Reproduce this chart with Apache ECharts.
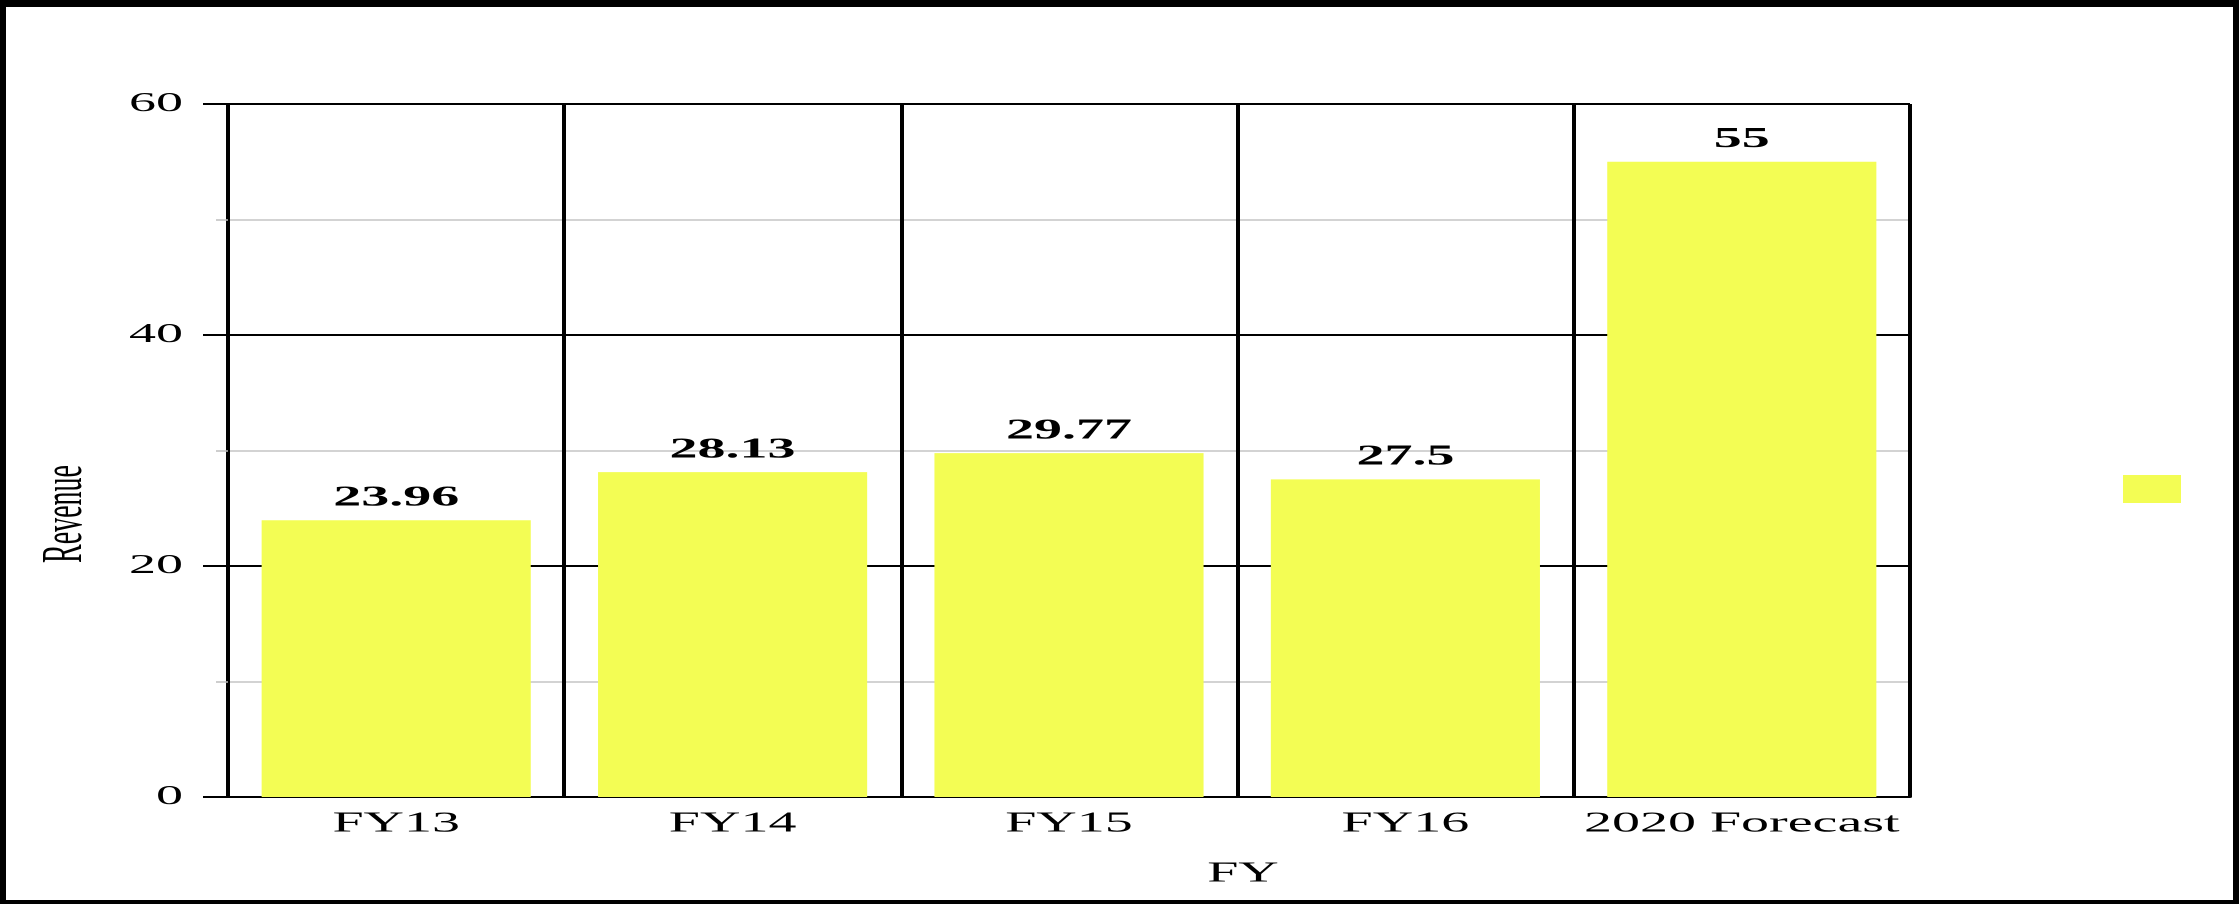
<!DOCTYPE html>
<html>
<head>
<meta charset="utf-8">
<script src="https://cdn.jsdelivr.net/npm/echarts@6/dist/echarts.min.js"></script>
<style>
  html, body { margin: 0; padding: 0; background: #fff; }
  #chart {
    position: absolute; left: 0; top: 0;
    width: 1119.5px; height: 904px;
    transform: scaleX(2); transform-origin: 0 0;
  }
  #frame {
    position: absolute; left: 0; top: 0;
    width: 2239px; height: 904px; box-sizing: border-box;
    border-style: solid; border-color: #000;
    border-width: 7px 6px 4px 6px;
    pointer-events: none;
  }
</style>
</head>
<body>
<div id="chart"></div>
<div id="frame"></div>
<script>
// chart data
const categories = ['FY13', 'FY14', 'FY15', 'FY16', '2020 Forecast']
const revenue = [23.96, 28.13, 29.77, 27.5, 55]
const yTicks = { min: 0, max: 60, interval: 20 }

const serif = 'Liberation Serif'
const black = { color: '#000', width: 2 }

// the source picture is stretched 2x horizontally, so the chart is drawn at half width and scaled
const chart = echarts.init(document.getElementById('chart'), null, { devicePixelRatio: 2 })

const options = {
  animation: false,
  grid: { left: 114, right: 165, top: 104, bottom: 107 },
  legend: {
    left: 1061.5,
    top: 475,
    padding: 0,
    icon: 'rect',
    itemWidth: 29,
    itemHeight: 28,
    data: [' '],
    textStyle: { fontSize: 1 }
  },
  xAxis: {
    type: 'category',
    data: categories,
    axisLine: { lineStyle: black },
    axisTick: { length: 12, interval: 0, lineStyle: black },
    splitLine: { show: true, interval: 0, lineStyle: black },
    axisLabel: { interval: 0, color: '#000', fontFamily: serif, fontSize: 28, margin: 13 }
  },
  yAxis: {
    type: 'value',
    min: yTicks.min,
    max: yTicks.max,
    interval: yTicks.interval,
    axisLine: { show: true, lineStyle: black },
    axisTick: { show: true, length: 12.5, lineStyle: black },
    minorTick: { show: true, splitNumber: 2, length: 6, lineStyle: { color: '#bdbdbd', width: 1.5 } },
    splitLine: { show: true, lineStyle: black },
    minorSplitLine: { show: true, lineStyle: { color: '#c4c4c4', width: 1.5 } },
    axisLabel: { color: '#000', fontFamily: serif, fontSize: 27, margin: 22.5 }
  },
  graphic: [
    {
      type: 'text',
      x: 621.5,
      y: 874,
      style: { text: 'FY', font: '28px "Liberation Serif"', fill: '#000', align: 'center', verticalAlign: 'middle' }
    },
    {
      type: 'text',
      x: 33,
      y: 514,
      rotation: Math.PI / 2,
      style: { text: 'Revenue', font: '28px "Liberation Serif"', fill: '#000', align: 'center', verticalAlign: 'middle' }
    }
  ],
  series: [
    {
      name: ' ',
      type: 'bar',
      data: revenue,
      barCategoryGap: '20%',
      itemStyle: { color: '#f3fd54' },
      label: {
        show: true,
        position: 'top',
        distance: 8,
        color: '#000',
        fontFamily: serif,
        fontWeight: 'bold',
        fontSize: 28
      }
    }
  ]
}

chart.setOption(options)
</script>
</body>
</html>
